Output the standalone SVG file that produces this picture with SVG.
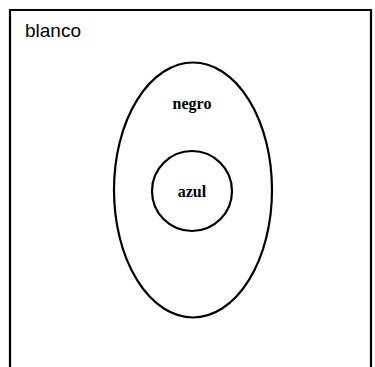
<svg xmlns="http://www.w3.org/2000/svg" width="375" height="367" viewBox="0 0 375 367">
<style>
.ln{fill:none;stroke:#000;stroke-width:2.2}
.lbl{font-family:"Liberation Serif","Times New Roman",serif;font-size:16px;font-weight:bold;text-anchor:middle;fill:#000}
.ttl{font-family:"Liberation Sans",Arial,sans-serif;font-size:19px;fill:#000}
</style>
<rect width="375" height="367" fill="#fff"/>
<g id="blanco">
<path class="ln" d="M10,368 V10 H371 V368"/>
<text class="ttl" x="25" y="37">blanco</text>
</g>
<g id="negro">
<ellipse class="ln" cx="193" cy="190" rx="79" ry="127.5"/>
<text class="lbl" x="192" y="109">negro</text>
</g>
<g id="azul">
<circle class="ln" cx="192" cy="191" r="40"/>
<text class="lbl" x="192" y="197">azul</text>
</g>
<g id="connectors"></g>
</svg>
